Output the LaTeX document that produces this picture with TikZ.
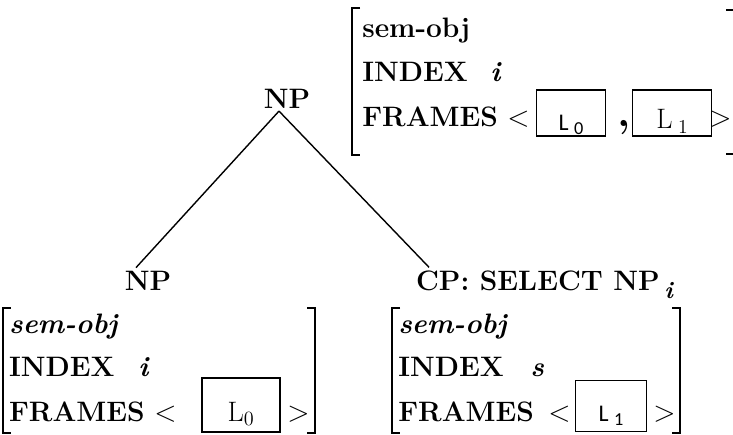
\documentclass[tikz,border=0pt]{standalone}
\usepackage{fontspec}
\newfontfamily\framefont{Carlito}
\usetikzlibrary{positioning}
\begin{document}
\begin{tikzpicture}[font=\fontsize{20}{24}\selectfont\bfseries]
  \tikzset{ cat/.style={inner sep=2pt,anchor=base},
    feat/.style={inner sep=0pt,anchor=base west},
    lbox/.style={draw,line width=1pt,inner sep=0pt,text depth=0pt,
      font=\fontsize{20}{24}\selectfont\mdseries},
    brak/.style={line width=1.2pt},
  }
  \useasboundingbox (0,0) rectangle (18.325,-10.85);

  % the tree
  \node[cat] (np0) at (7.175,-2.7) {NP};
  \node[cat] (np1) at (3.7,-7.25) {NP};
  \node[cat,anchor=base west] (cp) at (10.325,-7.25) {CP: SELECT NP\,\raisebox{-.3em}{\fontsize{17}{17}\selectfont\itshape i}};
  \draw[line width=1pt] ([xshift=-2mm]np0.south) -- ([xshift=-3mm]np1.north);
  \draw[line width=1pt] ([xshift=-2mm]np0.south) -- ([xshift=4mm]cp.north west);

  % top AVM
  \draw[brak] (9.0,-0.2) -| (8.8,-3.875) -- (9.0,-3.875);
  \draw[brak] (18.15,-0.25) -| (18.4,-3.85) -- (18.15,-3.85);
  \node[feat] (top1) at (9.05,-0.925) {sem-obj};
  \node[feat] (top2) at (9.05,-2.025) {INDEX};
  \node[feat] (top2v) at (12.25,-2.025) {\itshape i};
  \node[feat] (top3) at (9.05,-3.15) {FRAMES};
  \node[feat] (top3l) at (12.675,-3.15) {$<$};
  \node[lbox,minimum width=1.725cm,minimum height=1.15cm,text height=0.85cm] (top3a) at (14.275,-2.825)
    {\framefont\fontsize{17}{17}\selectfont L\hspace{4pt}\raisebox{-3pt}{\fontsize{13}{13}\selectfont 0}};
  \node[feat] (top3c) at (15.425,-3.15) {\fontsize{30}{30}\selectfont ,};
  \node[lbox,minimum width=1.975cm,minimum height=1.15cm,text height=0.75cm] (top3b) at (16.8,-2.825)
    {L\hspace{4pt}\raisebox{-4pt}{\fontsize{14}{14}\selectfont 1}};
  \node[feat] (top3r) at (17.725,-3.15) {$>$};

  % left AVM
  \draw[brak] (0.275,-7.7) -| (0.075,-10.825) -- (0.275,-10.825);
  \draw[brak] (7.675,-7.7) -| (7.875,-10.825) -- (7.675,-10.825);
  \node[feat] (left1) at (0.22,-8.325) {\itshape sem-obj};
  \node[feat] (left2) at (0.22,-9.4) {INDEX};
  \node[feat] (left2v) at (3.45,-9.4) {\itshape i};
  \node[feat] (left3) at (0.22,-10.525) {FRAMES};
  \node[feat] (left3l) at (3.85,-10.525) {$<$};
  \node[lbox,minimum width=1.95cm,minimum height=1.35cm,text height=0.8cm] (left3a) at (6.025,-10.125)
    {$\mathrm{L}_0$};
  \node[feat] (left3r) at (7.175,-10.525) {$>$};

  % right AVM
  \draw[brak] (10.0,-7.7) -| (9.8,-10.825) -- (10.0,-10.825);
  \draw[brak] (16.8,-7.7) -| (17.0,-10.825) -- (16.8,-10.825);
  \node[feat] (right1) at (9.95,-8.325) {\itshape sem-obj};
  \node[feat] (right2) at (9.95,-9.4) {INDEX};
  \node[feat] (right2v) at (13.25,-9.4) {\itshape s};
  \node[feat] (right3) at (9.95,-10.525) {FRAMES};
  \node[feat] (right3l) at (13.7,-10.525) {$<$};
  \node[lbox,minimum width=1.775cm,minimum height=1.275cm,text height=0.75cm] (right3a) at (15.275,-10.15)
    {\framefont\fontsize{17}{17}\selectfont L\hspace{4pt}\raisebox{-3pt}{\fontsize{13}{13}\selectfont 1}};
  \node[feat] (right3r) at (16.325,-10.525) {$>$};
\end{tikzpicture}
\end{document}
